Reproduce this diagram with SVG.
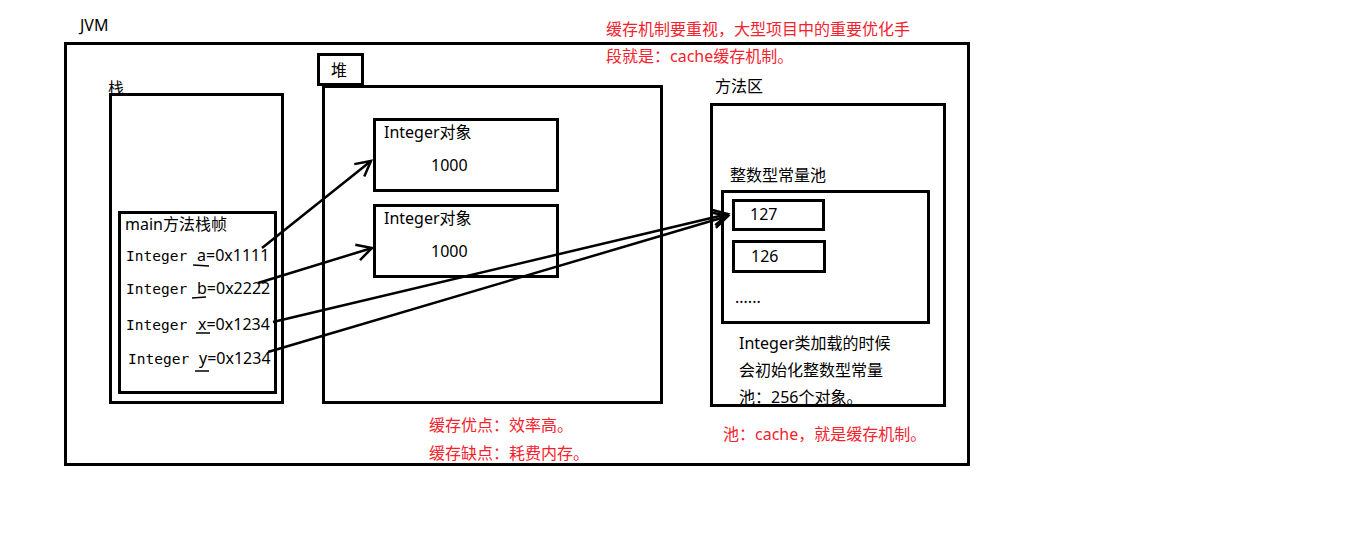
<svg xmlns="http://www.w3.org/2000/svg" width="1359" height="549" viewBox="0 0 1359 549">
<defs>
<style>
.box{fill:none;stroke:#000;stroke-width:3}
.t{font-family:"Noto Sans","Noto Sans CJK SC",sans-serif;font-size:16px;fill:#000}
.r{font-family:"Noto Sans","Noto Sans CJK SC",sans-serif;font-size:16px;fill:#f5222d}
.m{font-family:"DejaVu Sans Mono",monospace;font-size:14.5px}
.u{stroke:#000;stroke-width:1.5}
.c{fill:none;stroke:#000;stroke-width:2.5}
</style>
<marker id="ah" markerUnits="userSpaceOnUse" markerWidth="30" markerHeight="30" viewBox="-20 -15 30 30" refX="0" refY="0" orient="auto">
<path d="M-15,-8 L0,0 L-15,8" fill="none" stroke="#000" stroke-width="2.5"/>
</marker>
</defs>
<rect width="1359" height="549" fill="#fff"/>

<g id="jvm">
<rect class="box" x="65.5" y="43.5" width="903" height="421"/>
<text class="t" x="80" y="31">JVM</text>
</g>

<g id="stack">
<rect class="box" x="110.5" y="94.5" width="172" height="308"/>
<text class="t" x="108" y="94">栈</text>
</g>

<g id="main-frame">
<rect class="box" x="119.5" y="212.5" width="156" height="180"/>
<text class="t" x="125" y="230">main方法栈帧</text>
<text class="t" x="126" y="261"><tspan class="m">Integer</tspan><tspan x="197">a=0x1111</tspan></text>
<text class="t" x="126" y="294"><tspan class="m">Integer</tspan><tspan x="197">b=0x2222</tspan></text>
<text class="t" x="126" y="330"><tspan class="m">Integer</tspan><tspan x="198">x=0x1234</tspan></text>
<text class="t" x="128" y="364"><tspan class="m">Integer</tspan><tspan x="199">y=0x1234</tspan></text>
<line class="u" x1="193" y1="265" x2="209" y2="266"/>
<line class="u" x1="192" y1="298" x2="206" y2="297"/>
<line class="u" x1="196" y1="333" x2="210" y2="333"/>
<line class="u" x1="195" y1="371" x2="209" y2="371"/>
</g>

<g id="heap">
<rect class="box" x="318.5" y="54.5" width="44" height="30"/>
<text class="t" x="331" y="76">堆</text>
<rect class="box" x="323.5" y="86.5" width="338" height="316"/>
</g>

<g id="obj1">
<rect class="box" x="374.5" y="119.5" width="183" height="71"/>
<text class="t" x="384" y="138">Integer对象</text>
<text class="t" x="431" y="171">1000</text>
</g>

<g id="obj2">
<rect class="box" x="374.5" y="205.5" width="183" height="71"/>
<text class="t" x="384" y="224">Integer对象</text>
<text class="t" x="431" y="257">1000</text>
</g>

<g id="method-area">
<text class="t" x="715" y="92">方法区</text>
<rect class="box" x="711.5" y="104.5" width="233" height="301"/>
<text class="t" x="739" y="349">Integer类加载的时候</text>
<text class="t" x="739" y="376">会初始化整数型常量</text>
<text class="t" x="739" y="403">池：256个对象。</text>
</g>

<g id="pool">
<text class="t" x="730" y="181">整数型常量池</text>
<rect class="box" x="722.5" y="191.5" width="206" height="131"/>
<text class="t" x="735" y="303">......</text>
</g>

<g id="c127">
<rect class="box" x="733.5" y="200.5" width="90" height="29"/>
<text class="t" x="750" y="220">127</text>
</g>

<g id="c126">
<rect class="box" x="733.5" y="241.5" width="91" height="30"/>
<text class="t" x="751" y="262">126</text>
</g>

<g id="notes">
<text class="r" x="606" y="35">缓存机制要重视，大型项目中的重要优化手</text>
<text class="r" x="606" y="62">段就是：cache缓存机制。</text>
<text class="r" x="429" y="431">缓存优点：效率高。</text>
<text class="r" x="429" y="459">缓存缺点：耗费内存。</text>
<text class="r" x="723" y="440">池：cache，就是缓存机制。</text>
</g>

<g id="connectors">
<line class="c" x1="262" y1="248" x2="371" y2="161" marker-end="url(#ah)"/>
<line class="c" x1="258" y1="283" x2="372" y2="248" marker-end="url(#ah)"/>
<line class="c" x1="273" y1="322" x2="728" y2="214" marker-end="url(#ah)"/>
<line class="c" x1="268" y1="352" x2="728" y2="216" marker-end="url(#ah)"/>
</g>
</svg>
